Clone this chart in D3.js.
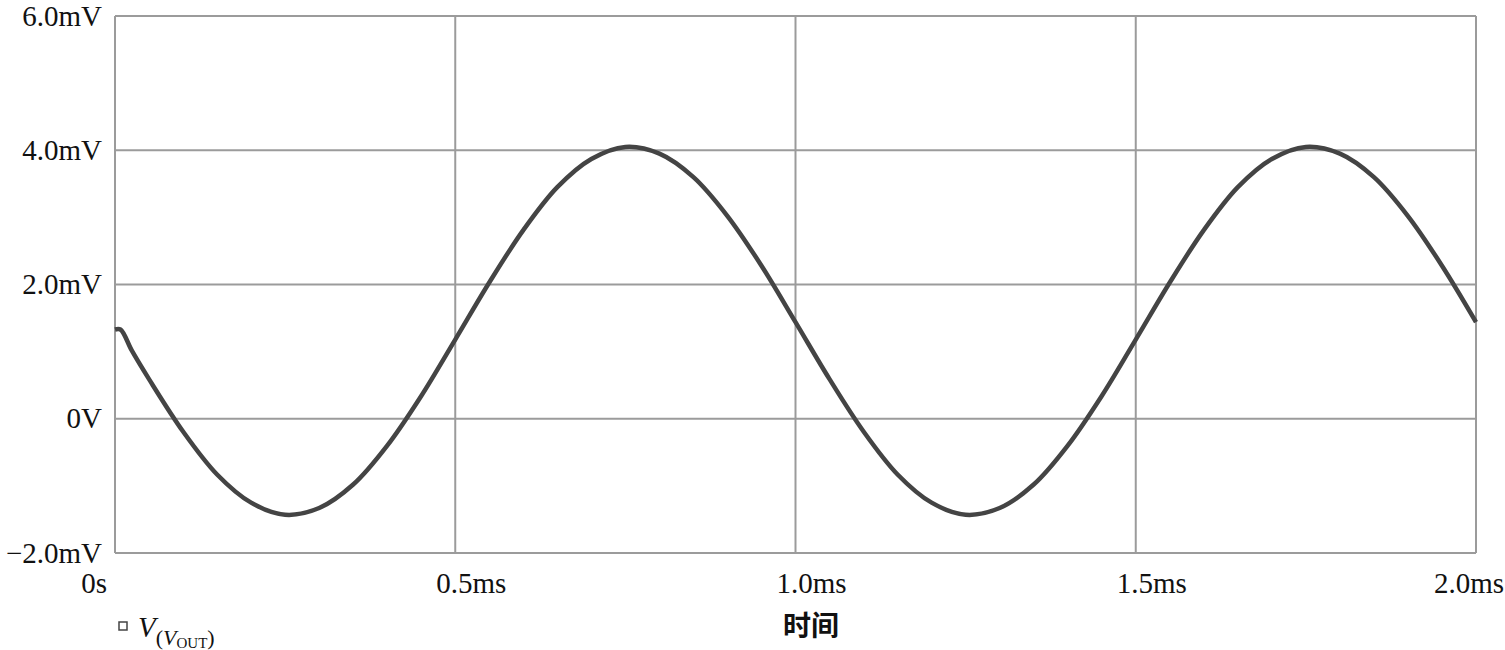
<!DOCTYPE html>
<html><head><meta charset="utf-8">
<script src="https://cdn.jsdelivr.net/npm/d3@7"></script>
<style>body{margin:0;background:#fff}</style>
</head><body>
<svg id="c" width="1505" height="650"></svg>
<script>
const timeMs = [0,0.008,0.025,0.05,0.10,0.15,0.20,0.25,0.30,0.35,0.40,0.45,0.50,0.55,0.60,0.65,0.70,0.75,0.80,0.85,0.90,0.95,1.00,
  1.05,1.10,1.15,1.20,1.25,1.30,1.35,1.40,1.45,1.50,1.55,1.60,1.65,1.70,1.75,1.80,1.85,1.90,1.95,2.00];
const voutMv = [1.33,1.33,1.01,0.59,-0.19,-0.83,-1.25,-1.43,-1.33,-0.98,-0.40,0.34,1.18,2.03,2.81,3.45,3.87,4.05,3.95,3.60,3.02,2.28,1.44,
  0.59,-0.19,-0.83,-1.25,-1.43,-1.33,-0.98,-0.40,0.34,1.18,2.03,2.81,3.45,3.87,4.05,3.95,3.60,3.02,2.28,1.44];
const xTicks = [0,0.5,1.0,1.5,2.0];
const xTickLabels = ["0s","0.5ms","1.0ms","1.5ms","2.0ms"];
const yTicks = [-2,0,2,4,6];
const yTickLabels = ["\u22122.0mV","0V","2.0mV","4.0mV","6.0mV"];
const xTitle = "时间";

const svg = d3.select("#c");
const L=115,R=1476,T=16,B=553;
const x = d3.scaleLinear().domain([0,2]).range([L,R]);
const y = d3.scaleLinear().domain([-2,6]).range([B,T]);
const grid="#9b9b9b";
const g = svg.append("g");
g.selectAll(".vx").data(xTicks).join("line")
  .attr("x1",d=>x(d)).attr("x2",d=>x(d)).attr("y1",T).attr("y2",B)
  .attr("stroke",grid).attr("stroke-width",2);
g.selectAll(".hy").data(yTicks).join("line")
  .attr("y1",d=>y(d)).attr("y2",d=>y(d)).attr("x1",L).attr("x2",R)
  .attr("stroke",grid).attr("stroke-width",2);

const font = "'Liberation Serif','Times New Roman',serif";
svg.selectAll(".yl").data(yTicks).join("text")
  .attr("x",L-13).attr("y",d=>y(d)).attr("dy","0.33em")
  .attr("text-anchor","end").attr("font-family",font).attr("font-size",29)
  .attr("fill","#111").text((d,i)=>yTickLabels[i]);
svg.selectAll(".xl").data(xTicks).join("text")
  .attr("x",(d,i)=> i===0 ? x(d)-8 : (i===xTicks.length-1 ? x(d)+28 : x(d)+16))
  .attr("y",593)
  .attr("text-anchor",(d,i)=> i===0||i===xTicks.length-1 ? "end" : "middle")
  .attr("font-family",font).attr("font-size",29)
  .attr("fill","#111").text((d,i)=>xTickLabels[i]);

svg.append("text").attr("x",811).attr("y",636).attr("text-anchor","middle")
  .attr("font-family","'Noto Sans CJK SC',sans-serif").attr("font-weight",700)
  .attr("font-size",28).attr("fill","#111").text(xTitle);

const line = d3.line().x((d,i)=>x(timeMs[i])).y(d=>y(d)).curve(d3.curveCatmullRom.alpha(0.5));
svg.append("path").datum(voutMv).attr("d",line).attr("fill","none")
  .attr("stroke","#444").attr("stroke-width",4.5).attr("stroke-linejoin","round");

// legend
svg.append("rect").attr("x",119).attr("y",622).attr("width",8).attr("height",8)
  .attr("fill","none").attr("stroke","#444").attr("stroke-width",1.5);
const lt = svg.append("text").attr("x",138).attr("y",637).attr("font-family",font).attr("fill","#111");
lt.append("tspan").attr("font-size",29).attr("font-style","italic").text("V");
lt.append("tspan").attr("font-size",22).attr("dy",8).text("(");
lt.append("tspan").attr("font-size",22).attr("font-style","italic").text("V");
lt.append("tspan").attr("font-size",15).attr("dy",3).text("OUT");
lt.append("tspan").attr("font-size",22).attr("dy",-3).text(")");
</script>
</body></html>
